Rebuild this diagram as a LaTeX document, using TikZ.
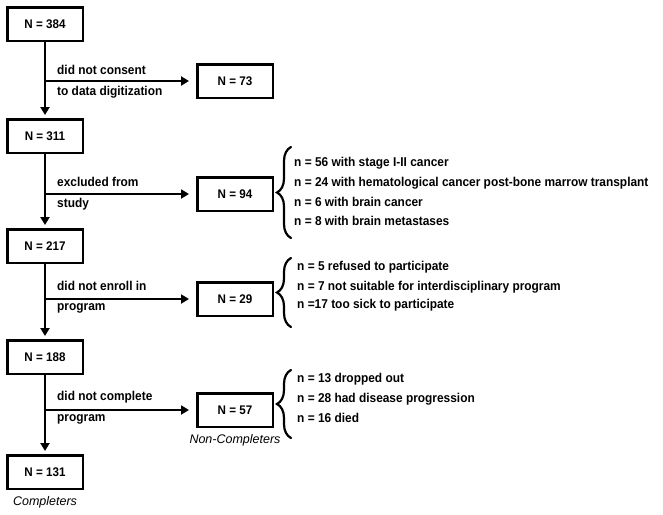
\documentclass[tikz,border=0pt]{standalone}
\usepackage{fontspec}
\setmainfont{Liberation Sans}
\newfontfamily\tallsans[FakeStretch=0.93]{Liberation Sans}
\usetikzlibrary{arrows.meta,decorations.pathreplacing,positioning}

\tikzset{
  countbox/.style={rectangle, draw=black, line width=2.5pt, minimum width=75.5pt, minimum height=33.5pt, inner sep=2pt, font=\tallsans\bfseries\fontsize{12.5}{14}\selectfont},
  flowarrow/.style={draw=black, line width=2.4pt, -{Triangle[length=8pt,width=9pt]}},
  branchlabel/.style={anchor=west, inner sep=0pt, font=\tallsans\bfseries\fontsize{12.8}{14}\selectfont},
  reason/.style={anchor=west, inner sep=0pt, font=\tallsans\bfseries\fontsize{12.8}{14}\selectfont},
  groupnote/.style={inner sep=0pt, font=\itshape\fontsize{12.5}{14}\selectfont},
  sidebrace/.style={draw=black, line width=2.2pt, line cap=round, decorate, decoration={brace, amplitude=14pt}}
}

\begin{document}
\begin{tikzpicture}[x=1pt, y=-1pt]
\useasboundingbox (0, 0) rectangle (663, 514);

\node[countbox] (n1) at (45, 24) {N = 384};
\node[countbox] (n2) at (45, 136) {N = 311};
\node[countbox] (n3) at (45, 246) {N = 217};
\node[countbox] (n4) at (45, 357) {N = 188};
\node[countbox] (n5) at (45, 472) {N = 131};

\node[countbox] (x1) at (235, 81) {N = 73};
\node[countbox] (x2) at (235, 194) {N = 94};
\node[countbox] (x3) at (235, 299) {N = 29};
\node[countbox] (x4) at (235, 410) {N = 57};

\node[groupnote, below=6pt of n5] (completers) {Completers};
\node[groupnote, below=6pt of x4] (noncompleters) {Non-Completers};

\draw[flowarrow, shorten >=3pt] (n1) -- (n2);
\draw[flowarrow, shorten >=3pt] (n2) -- (n3);
\draw[flowarrow, shorten >=3pt] (n3) -- (n4);
\draw[flowarrow, shorten >=3pt] (n4) -- (n5);

\coordinate (j1) at (n1 |- x1);
\coordinate (j2) at (n2 |- x2);
\coordinate (j3) at (n3 |- x3);
\coordinate (j4) at (n4 |- x4);

\draw[flowarrow, shorten >=7pt] (j1) -- (x1);
\draw[flowarrow, shorten >=7pt] (j2) -- (x2);
\draw[flowarrow, shorten >=7pt] (j3) -- (x3);
\draw[flowarrow, shorten >=7pt] (j4) -- (x4);

\node[branchlabel] (l1a) at (57, 70) {did not consent};
\node[branchlabel] (l1b) at (57, 92) {to data digitization};
\node[branchlabel] (l2a) at (57, 182) {excluded from};
\node[branchlabel] (l2b) at (57, 204) {study};
\node[branchlabel] (l3a) at (57, 286) {did not enroll in};
\node[branchlabel] (l3b) at (57, 308) {program};
\node[branchlabel] (l4a) at (57, 397) {did not complete};
\node[branchlabel] (l4b) at (57, 419) {program};

\draw[sidebrace] (291, 238) -- (291, 147);
\node[reason] (r21) at (294, 163) {n = 56 with stage I-II cancer};
\node[reason] (r22) at (294, 183) {n = 24 with hematological cancer post-bone marrow transplant};
\node[reason] (r23) at (294, 202) {n = 6 with brain cancer};
\node[reason] (r24) at (294, 221) {n = 8 with brain metastases};

\draw[sidebrace] (291, 327) -- (291, 258);
\node[reason] (r31) at (297, 267) {n = 5 refused to participate};
\node[reason] (r32) at (297, 287) {n = 7 not suitable for interdisciplinary program};
\node[reason] (r33) at (297, 305) {n =17 too sick to participate};

\draw[sidebrace] (291, 438) -- (291, 370);
\node[reason] (r41) at (297, 379) {n = 13 dropped out};
\node[reason] (r42) at (297, 399) {n = 28 had disease progression};
\node[reason] (r43) at (297, 418) {n = 16 died};

\end{tikzpicture}
\end{document}
